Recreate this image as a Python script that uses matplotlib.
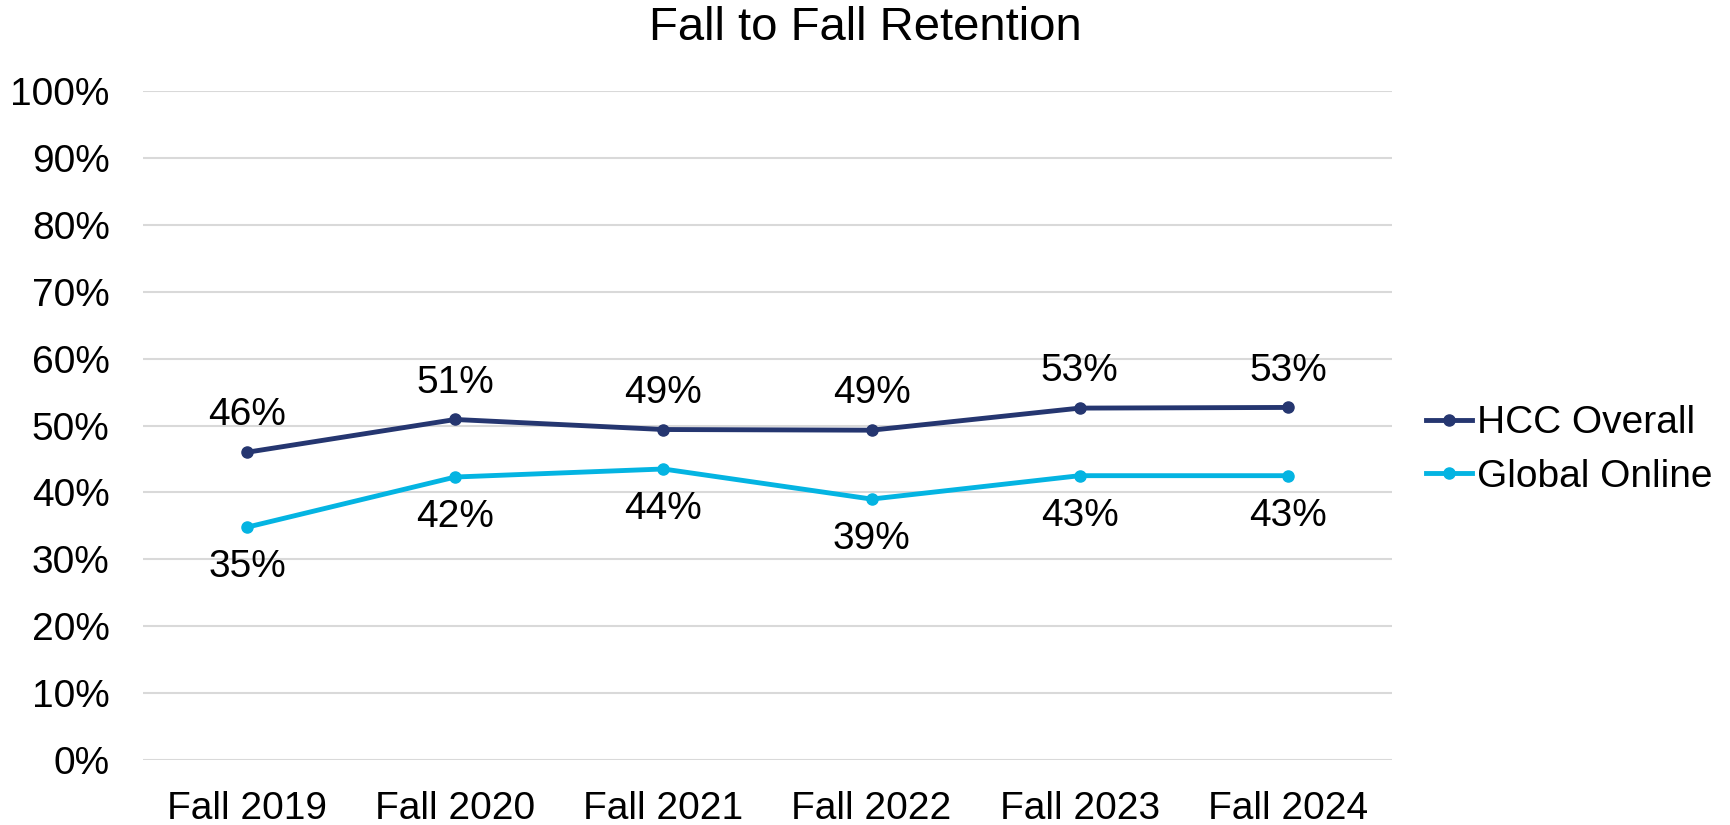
import matplotlib
matplotlib.use("Agg")
import matplotlib.pyplot as plt
from matplotlib.ticker import PercentFormatter

categories = ["Fall 2019", "Fall 2020", "Fall 2021", "Fall 2022", "Fall 2023", "Fall 2024"]
hcc_overall = [46.0, 50.9, 49.4, 49.3, 52.6, 52.7]
global_online = [34.8, 42.3, 43.5, 39.0, 42.5, 42.5]
hcc_labels = ["46%", "51%", "49%", "49%", "53%", "53%"]
global_labels = ["35%", "42%", "44%", "39%", "43%", "43%"]
yticks = list(range(0, 101, 10))

plt.rcParams['font.family'] = ['Liberation Sans', 'DejaVu Sans']

NAVY = "#253670"
CYAN = "#04B4E2"

fig = plt.figure(figsize=(17.3, 8.25), dpi=100)
ax = fig.add_axes([143/1730, 1-760/825, (1392-143)/1730, (760-91)/825])

x = list(range(len(categories)))
ax.plot(x, hcc_overall, color=NAVY, lw=3.5, marker='o', ms=8, label="HCC Overall", zorder=3)
ax.plot(x, global_online, color=CYAN, lw=3.5, marker='o', ms=8, label="Global Online", zorder=3)

for xi, v, t in zip(x, hcc_overall, hcc_labels):
    ax.annotate(t, (xi, v), xytext=(0, 26.5), textcoords='offset points',
                ha='center', va='center', fontsize=28, color='black')
for xi, v, t in zip(x, global_online, global_labels):
    ax.annotate(t, (xi, v), xytext=(0, -29), textcoords='offset points',
                ha='center', va='center', fontsize=28, color='black')

ax.set_xlim(-0.5, len(categories) - 0.5)
ax.set_ylim(0, 100)
ax.set_yticks(yticks)
ax.yaxis.set_major_formatter(PercentFormatter(decimals=0))
ax.set_xticks(x)
ax.set_xticklabels(categories)
ax.tick_params(axis='both', length=0, labelsize=28, colors='black')
ax.tick_params(axis='y', pad=24)
ax.tick_params(axis='x', pad=22.5)
ax.grid(axis='y', color='#D9D9D9', lw=1.5)
ax.set_axisbelow(True)
for s in ax.spines.values():
    s.set_visible(False)

fig.text(0.5, 1-27.5/825, "Fall to Fall Retention", ha='center', va='center', fontsize=34)

fig.legend(loc='center left', bbox_to_anchor=(1426/1730, 1-450/825), frameon=False,
           fontsize=28, handlelength=1.18, handletextpad=0.12, labelspacing=0.45,
           borderaxespad=0, borderpad=0)

fig.savefig("out.png", dpi=100)
